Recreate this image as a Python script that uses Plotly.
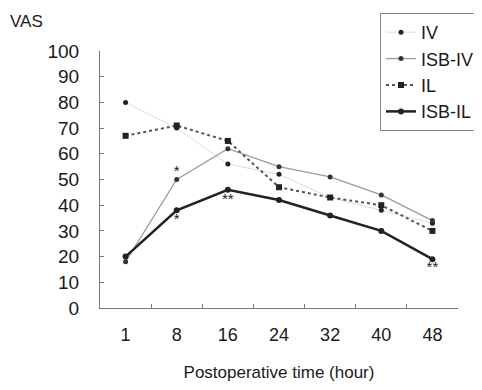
import plotly.graph_objects as go

hours = ["1", "8", "16", "24", "32", "40", "48"]
iv = [80, 70, 56, 52, 43, 38, 33]
isb_iv = [18, 50, 62, 55, 51, 44, 34]
il = [67, 71, 65, 47, 43, 40, 30]
isb_il = [20, 38, 46, 42, 36, 30, 19]

sig_hours = ["8", "8", "16", "48"]
sig_values = [53, 34, 42, 15.5]
sig_marks = ["*", "*", "**", "**"]

y_ticks = [0, 10, 20, 30, 40, 50, 60, 70, 80, 90, 100]

# page body adds an 8px offset; figure sized to fit the 482x390 window
W, H = 474, 382
L, R, T, B = 92, 24, 43, 82
FONT = "Liberation Sans, Arial, sans-serif"
INK = "#1a1a1a"

fig = go.Figure()
fig.add_trace(go.Scatter(
    x=hours, y=iv, name="IV", mode="lines+markers",
    line=dict(color="#dcdcdc", width=1),
    marker=dict(color="#222", size=5, symbol="circle")))
fig.add_trace(go.Scatter(
    x=hours, y=isb_iv, name="ISB-IV", mode="lines+markers",
    line=dict(color="#9a9a9a", width=1.3),
    marker=dict(color="#333", size=5, symbol="circle")))
fig.add_trace(go.Scatter(
    x=hours, y=il, name="IL", mode="lines+markers",
    line=dict(color="#555", width=2, dash="dot"),
    marker=dict(color="#222", size=6, symbol="square")))
fig.add_trace(go.Scatter(
    x=hours, y=isb_il, name="ISB-IL", mode="lines+markers",
    line=dict(color="#222", width=2.5),
    marker=dict(color="#222", size=6, symbol="circle")))
fig.add_trace(go.Scatter(
    x=sig_hours, y=sig_values, text=sig_marks, mode="text",
    textfont=dict(family=FONT, size=15, color="#222"),
    showlegend=False, hoverinfo="skip"))

pw = W - L - R
ph = H - T - B
fig.add_annotation(
    text="VAS", xref="paper", yref="paper",
    x=(0 - L) / pw, y=(H - B - 14) / ph,
    xanchor="left", yanchor="middle", showarrow=False,
    font=dict(family=FONT, size=17, color=INK))

fig.update_layout(
    width=W, height=H,
    margin=dict(l=L, r=R, t=T, b=B, autoexpand=False),
    paper_bgcolor="white", plot_bgcolor="white",
    font=dict(family=FONT, color=INK),
    showlegend=True,
    legend=dict(
        x=(372 - L) / pw, y=(H - B - 5) / ph,
        xanchor="left", yanchor="top",
        bordercolor="#888", borderwidth=1, bgcolor="white",
        font=dict(family=FONT, size=18, color=INK),
        tracegroupgap=2, itemwidth=30),
    xaxis=dict(
        type="category", categoryorder="array", categoryarray=hours,
        range=[-0.5, 6.5],
        showline=True, linecolor="#777", linewidth=1,
        ticks="inside", ticklen=4, tickcolor="#777", tickson="boundaries",
        showgrid=False, zeroline=False,
        tickfont=dict(family=FONT, size=18, color=INK),
        ticklabelstandoff=10,
        title=dict(text="Postoperative time (hour)",
                   font=dict(family=FONT, size=17, color=INK), standoff=22)),
    yaxis=dict(
        range=[0, 100], tickvals=y_ticks,
        showline=True, linecolor="#777", linewidth=1,
        ticks="inside", ticklen=4, tickcolor="#777",
        showgrid=False, zeroline=False,
        tickfont=dict(family=FONT, size=19, color=INK),
        ticklabelstandoff=16),
)

fig.write_html("out.html")
